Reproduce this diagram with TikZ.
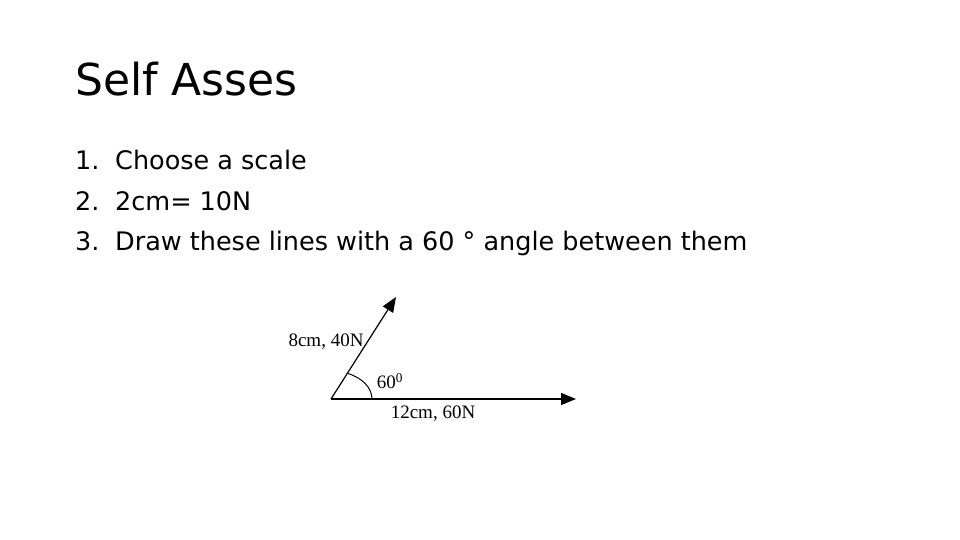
\documentclass[tikz,border=0pt]{standalone}
\usepackage{fontspec}
\setmainfont{DejaVu Sans}
\newfontfamily\labelfont{Liberation Serif}
\usetikzlibrary{arrows.meta}

\begin{document}
\begin{tikzpicture}[x=1pt,y=-1pt,
  heading/.style={anchor=base west,inner sep=0pt,font=\fontsize{44}{50}\selectfont},
  itemtext/.style={anchor=base west,inner sep=0pt,font=\fontsize{25.5}{30}\selectfont},
  vecline/.style={line width=1.2pt,-{Triangle[length=15pt,width=12pt]}},
  veclabel/.style={inner sep=0pt,font=\labelfont\fontsize{19}{21}\selectfont}]
\useasboundingbox[fill=white] (0,0) rectangle (960,540);
\node[heading] (title) at (75,96) {Self Asses};
% numbered list
\node[itemtext] (num1) at (75,170) {1.};
\node[itemtext] (item1) at (115,170) {Choose a scale};
\node[itemtext] (num2) at (75,210) {2.};
\node[itemtext] (item2) at (115,210) {2cm= 10N};
\node[itemtext] (num3) at (75,250) {3.};
\node[itemtext] (item3) at (115,250) {Draw these lines with a 60 ° angle between them};
% the two vectors
\coordinate (origin) at (331,399);
\coordinate (tipA) at (396,297);
\coordinate (tipB) at (576,399);
\draw[vecline] (origin) -- (tipA);
\draw[vecline] (origin) -- (tipB);
\draw[line width=1pt] ([xshift=41pt]origin) arc[start angle=0,end angle=67,x radius=41pt,y radius=28pt];
\node[veclabel] (lblA) at (326,342) {8cm, 40N};
\node[veclabel] (lblB) at (433,414) {12cm, 60N};
\node[veclabel] (lblang) at (390,381) {60\textsuperscript{0}};
\end{tikzpicture}
\end{document}
